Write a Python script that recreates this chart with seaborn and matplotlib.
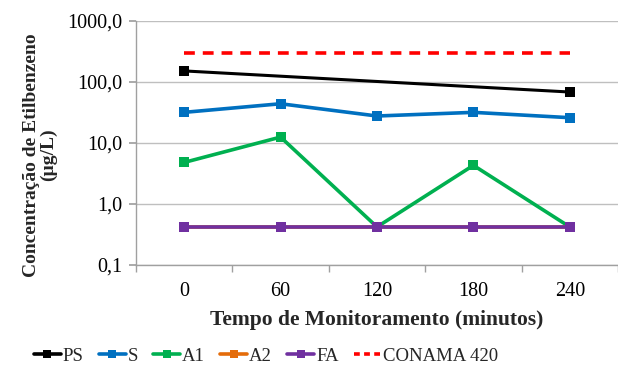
import matplotlib
matplotlib.use("Agg")
import matplotlib.pyplot as plt
import seaborn as sns
import numpy as np
from matplotlib.ticker import FixedLocator, FuncFormatter
from matplotlib.lines import Line2D

categories = ["0", "60", "120", "180", "240"]
ps_idx = [0, 4]
ps_vals = [152.0, 68.5]
s_vals = [31.8, 44.0, 27.7, 31.8, 26.0]
a1_vals = [4.8, 12.5, 0.42, 4.3, 0.42]
a2_vals = [0.42, 0.42, 0.42, 0.42, 0.42]
fa_vals = [0.42, 0.42, 0.42, 0.42, 0.42]
conama_vals = [300.0, 300.0, 300.0, 300.0, 300.0]
y_ticks = [0.1, 1, 10, 100, 1000]

sns.set_theme(style="white")
plt.rcParams['font.family'] = ['Liberation Serif', 'DejaVu Serif']

fig = plt.figure(figsize=(6.18, 3.69), dpi=100)
ax = fig.add_axes([0.22, 0.282, 0.78, 0.661])

x = np.arange(len(categories))
lw = 2.6
ms = 6.5
sns.lineplot(x=x, y=conama_vals, ax=ax, color="#FF0000", linewidth=2.6, zorder=2)
ax.lines[-1].set_dashes([3, 2.2])
sns.lineplot(x=ps_idx, y=ps_vals, ax=ax, color="black", linewidth=2.2, marker="s",
             markersize=ms, markeredgewidth=0, zorder=3)
sns.lineplot(x=x, y=s_vals, ax=ax, color="#0070C0", linewidth=lw, marker="s",
             markersize=ms, markeredgewidth=0, zorder=3)
sns.lineplot(x=x, y=a1_vals, ax=ax, color="#00B050", linewidth=lw, marker="s",
             markersize=ms, markeredgewidth=0, zorder=3)
sns.lineplot(x=x, y=a2_vals, ax=ax, color="#E46C0A", linewidth=lw, marker="s",
             markersize=ms, markeredgewidth=0, zorder=3)
sns.lineplot(x=x, y=fa_vals, ax=ax, color="#7030A0", linewidth=lw, marker="s",
             markersize=ms, markeredgewidth=0, zorder=4)

ax.set_yscale("log")
ax.set_ylim(0.1, 1000)
ax.set_xlim(-0.5, 4.5)
ax.yaxis.set_major_locator(FixedLocator(y_ticks))
ax.yaxis.set_minor_locator(FixedLocator([]))
ax.yaxis.set_major_formatter(FuncFormatter(lambda v, p: f"{v:.1f}".replace(".", ",")))
ax.set_xticks(x)
ax.set_xticklabels(categories)
ax.set_xticks(np.arange(-0.5, 5.0, 1.0), minor=True)
ax.tick_params(axis="x", which="major", length=0, labelsize=14.5, pad=12, colors="black")
ax.tick_params(axis="x", which="minor", length=5, color="#A0A0A0", direction="out", bottom=True)
ax.tick_params(axis="y", which="major", length=5, color="#A0A0A0", direction="out",
               left=True, labelsize=14.5, pad=5, labelcolor="black")

ax.grid(axis="y", color="#BFBFBF", linewidth=1.0)
ax.grid(axis="x", visible=False)
ax.set_axisbelow(True)
for s in ["top", "right"]:
    ax.spines[s].set_visible(False)
for s in ["left", "bottom"]:
    ax.spines[s].set_color("#A0A0A0")
    ax.spines[s].set_linewidth(1.0)

ax.set_xlabel("Tempo de Monitoramento (minutos)", fontsize=15.5, fontweight="bold", labelpad=7)
ax.set_ylabel("Concentração de Etilbenzeno\n(µg/L)", fontsize=14, fontweight="bold",
              linespacing=1.0)
ax.yaxis.set_label_coords(-0.163, 0.45)

handles = [
    Line2D([], [], color="black", lw=lw, marker="s", ms=6, mew=0),
    Line2D([], [], color="#0070C0", lw=lw, marker="s", ms=6, mew=0),
    Line2D([], [], color="#00B050", lw=lw, marker="s", ms=6, mew=0),
    Line2D([], [], color="#E46C0A", lw=lw, marker="s", ms=6, mew=0),
    Line2D([], [], color="#7030A0", lw=lw, marker="s", ms=6, mew=0),
    Line2D([], [], color="#FF0000", lw=2.6, dashes=[1.6, 1.2]),
]
labels = ["PS", "S", "A1", "A2", "FA", "CONAMA 420"]
fig.legend(handles, labels, loc="center", bbox_to_anchor=(0.43, 0.035), ncol=6,
           frameon=False, fontsize=13.5, handlelength=1.45, handletextpad=0.1,
           columnspacing=0.8)

fig.savefig("out.png", dpi=100)
